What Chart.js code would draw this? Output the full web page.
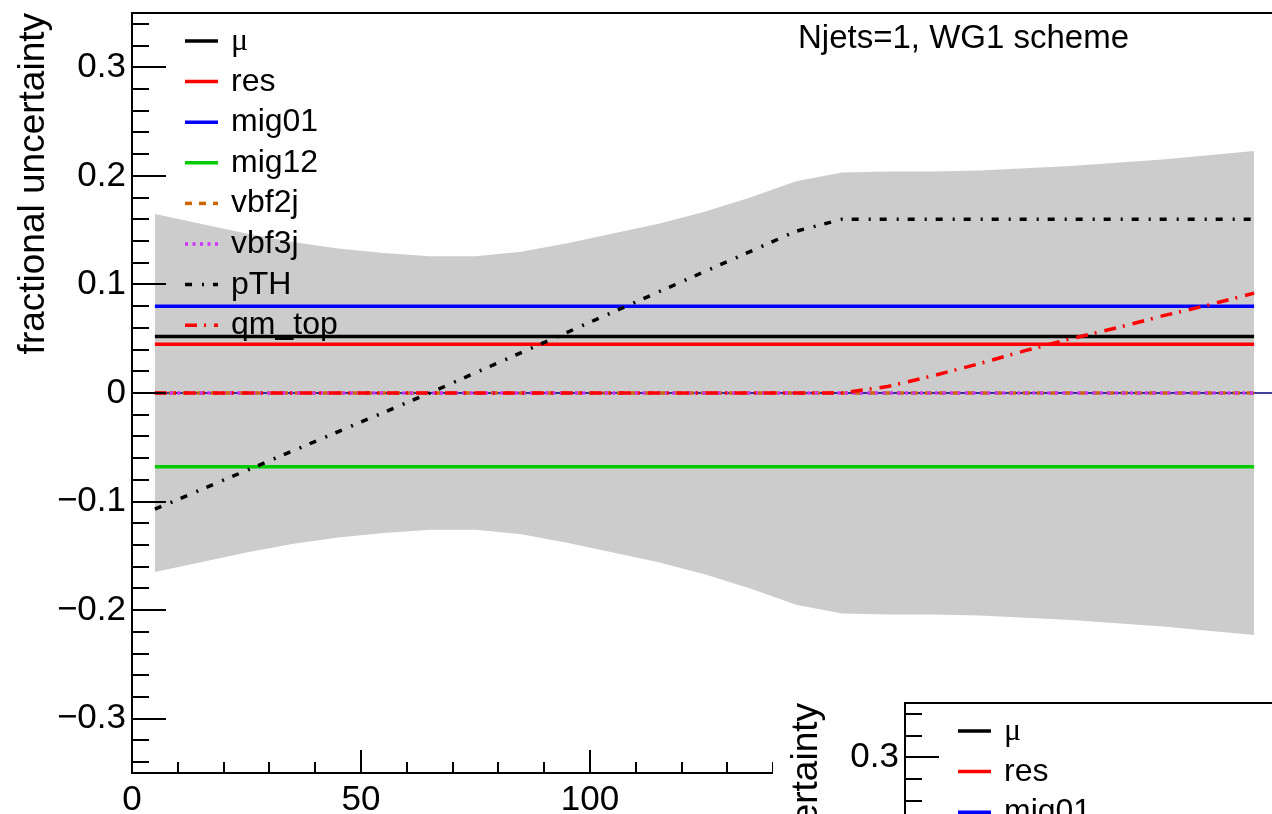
<!DOCTYPE html>
<html>
<head>
<meta charset="utf-8">
<script src="https://cdn.jsdelivr.net/npm/chart.js@4.4.1/dist/chart.umd.min.js"></script>
<style>
  html, body { margin: 0; padding: 0; width: 1272px; height: 814px; overflow: hidden; background: #fff; }
  #main { position: absolute; left: 0; top: 0; }
  #inset { position: absolute; left: 773px; top: 690px; background: #fff; }
</style>
</head>
<body>
<canvas id="main" width="1340" height="830"></canvas>
<canvas id="inset" width="1340" height="830"></canvas>
<script>
// fractional uncertainties vs pTH, Njets=1, WG1 scheme
const bandX = [5, 15, 25, 35, 45, 55, 65, 75, 85, 95, 105, 115, 125, 135, 145, 155, 165, 175, 185, 195, 205, 215, 225, 235, 245];
const totalUnc = [0.165, 0.156, 0.147, 0.139, 0.133, 0.129, 0.126, 0.126, 0.130, 0.138, 0.147, 0.156, 0.167, 0.180, 0.195, 0.203, 0.204, 0.204, 0.205, 0.207, 0.209, 0.212, 0.215, 0.219, 0.223];

const flatX = [5, 245];
const muVal = 0.052;
const resVal = 0.045;
const mig01Val = 0.080;
const mig12Val = -0.068;
const vbf2jVal = 0;
const vbf3jVal = 0;

const pthX = [5, 65, 145, 155, 245];
const pthVal = [-0.107, 0, 0.149, 0.160, 0.160];

const qmX = [5, 155, 165, 175, 185, 195, 205, 215, 225, 235, 245];
const qmVal = [0, 0, 0.006, 0.016, 0.027, 0.039, 0.050, 0.060, 0.071, 0.081, 0.092];

const yTickVals = [-0.3, -0.2, -0.1, 0, 0.1, 0.2, 0.3];
const xTickVals = [0, 50, 100, 150, 200, 250];

const sans = '"Liberation Sans", Arial, Helvetica, sans-serif';

function pts(xs, ys) {
  return xs.map((x, i) => ({ x: x, y: Array.isArray(ys) ? ys[i] : ys }));
}

function buildDatasets(withData) {
  const d = (xs, ys) => withData ? pts(xs, ys) : [];
  return [
    { label: 'μ', legend: true, data: d(flatX, muVal), borderColor: '#000000', borderWidth: 3.5, order: 8 },
    { label: 'res', legend: true, data: d(flatX, resVal), borderColor: '#ff0000', borderWidth: 3.5, order: 7 },
    { label: 'mig01', legend: true, data: d(flatX, mig01Val), borderColor: '#0000ff', borderWidth: 3.5, order: 6 },
    { label: 'mig12', legend: true, data: d(flatX, mig12Val), borderColor: '#00cc00', borderWidth: 3.5, order: 5 },
    { label: 'vbf2j', legend: true, data: d(flatX, vbf2jVal), borderColor: '#cc6600', borderWidth: 3.5, borderDash: [7, 7], order: 4 },
    { label: 'vbf3j', legend: true, data: d(flatX, vbf3jVal), borderColor: '#cc33ff', borderWidth: 3.5, borderDash: [3, 4.5], order: 3 },
    { label: 'pTH', legend: true, data: d(pthX, pthVal), borderColor: '#000000', borderWidth: 3.5, borderDash: [7, 10, 2, 9], order: 2 },
    { label: 'qm_top', legend: true, data: d(qmX, qmVal), borderColor: '#ff0000', borderWidth: 3.5, borderDash: [12, 7, 2, 8], order: 1 },
    { label: 'zero', data: withData ? [{ x: 0, y: 0 }, { x: 250, y: 0 }] : [], borderColor: '#000080', borderWidth: 1.5, order: 9 },
    { label: 'total up', data: d(bandX, totalUnc), borderColor: 'rgba(0,0,0,0)', borderWidth: 1, backgroundColor: 'rgb(204,204,204)', fill: '+1', order: 10 },
    { label: 'total down', data: d(bandX, totalUnc.map(v => -v)), borderColor: 'rgba(0,0,0,0)', borderWidth: 1, fill: false, order: 11 }
  ];
}

const rootDecor = {
  id: 'rootDecor',
  afterDatasetsDraw(chart, args, opts) {
    const ctx = chart.ctx, a = chart.chartArea;
    const xs = chart.scales.x, ys = chart.scales.y;
    ctx.save();
    ctx.strokeStyle = '#000';
    ctx.lineWidth = 2;
    ctx.setLineDash([]);
    // top frame
    ctx.beginPath();
    ctx.moveTo(a.left - 1, a.top);
    ctx.lineTo(a.right, a.top);
    ctx.stroke();
    // inward ticks, y
    for (let i = -17; i <= 17; i++) {
      const py = Math.round(ys.getPixelForValue(i * 0.02));
      const len = i % 5 === 0 ? 34 : 17;
      ctx.beginPath();
      ctx.moveTo(a.left, py);
      ctx.lineTo(a.left + len, py);
      ctx.stroke();
    }
    // inward ticks, x
    for (let i = 0; i <= 25; i++) {
      const px = Math.round(xs.getPixelForValue(i * 10));
      const len = i % 5 === 0 ? 23 : 11;
      ctx.beginPath();
      ctx.moveTo(px, a.bottom);
      ctx.lineTo(px, a.bottom - len);
      ctx.stroke();
    }
    // legend
    const entries = chart.data.datasets.filter(d => d.legend);
    ctx.textAlign = 'left';
    ctx.textBaseline = 'alphabetic';
    ctx.fillStyle = '#000';
    entries.forEach((d, i) => {
      const y = a.top + 28 + i * 40.6;
      ctx.strokeStyle = d.borderColor;
      ctx.lineWidth = 3.5;
      ctx.setLineDash(d.borderDash || []);
      ctx.beginPath();
      ctx.moveTo(a.left + 53, y);
      ctx.lineTo(a.left + 86, y);
      ctx.stroke();
      ctx.setLineDash([]);
      ctx.font = d.label === 'μ' ? '32px "Liberation Serif", serif' : '32px ' + sans;
      ctx.fillText(d.label, a.left + 99, y + 9);
    });
    // title text
    if (opts.title) {
      ctx.font = '33px ' + sans;
      ctx.fillText(opts.title, a.left + 666, a.top + 35);
    }
    // y axis title
    ctx.translate(44, a.top);
    ctx.rotate(-Math.PI / 2);
    ctx.textAlign = 'right';
    ctx.font = '37px ' + sans;
    ctx.fillText('fractional uncertainty', 0, 0);
    ctx.restore();
  }
};

function makeChart(canvas, datasets, title) {
  return new Chart(canvas, {
    type: 'line',
    data: { datasets: datasets },
    options: {
      responsive: false,
      animation: false,
      devicePixelRatio: 1,
      layout: { padding: { top: 13, right: 63, left: 0, bottom: 0 } },
      elements: { point: { radius: 0 }, line: { tension: 0 } },
      plugins: {
        legend: { display: false },
        tooltip: { enabled: false },
        rootDecor: { title: title }
      },
      scales: {
        x: {
          type: 'linear', min: 0, max: 250,
          grid: { display: false, drawTicks: false },
          border: { display: true, color: '#000', width: 2 },
          ticks: { padding: 6, color: '#000', maxRotation: 0, font: { family: sans, size: 35 }, callback: v => String(v) },
          afterBuildTicks: s => { s.ticks = xTickVals.map(v => ({ value: v })); },
          afterFit: s => { s.height = 830 - 773; s.paddingLeft = 0; s.paddingRight = 0; }
        },
        y: {
          type: 'linear', min: -0.35, max: 0.35,
          grid: { display: false, drawTicks: false },
          border: { display: true, color: '#000', width: 2 },
          ticks: {
            padding: 6, color: '#000', font: { family: sans, size: 35 },
            callback: v => Math.abs(v) < 1e-9 ? '0' : v.toFixed(1).replace('-', '\u2212')
          },
          afterBuildTicks: s => { s.ticks = yTickVals.map(v => ({ value: v })); },
          afterFit: s => { s.width = 132; s.paddingTop = 0; s.paddingBottom = 0; }
        }
      }
    },
    plugins: [rootDecor]
  });
}

makeChart(document.getElementById('main'), buildDatasets(true), 'Njets=1, WG1 scheme');
// the neighbouring panel only shows its top-left corner
makeChart(document.getElementById('inset'), buildDatasets(false), null);
</script>
</body>
</html>
